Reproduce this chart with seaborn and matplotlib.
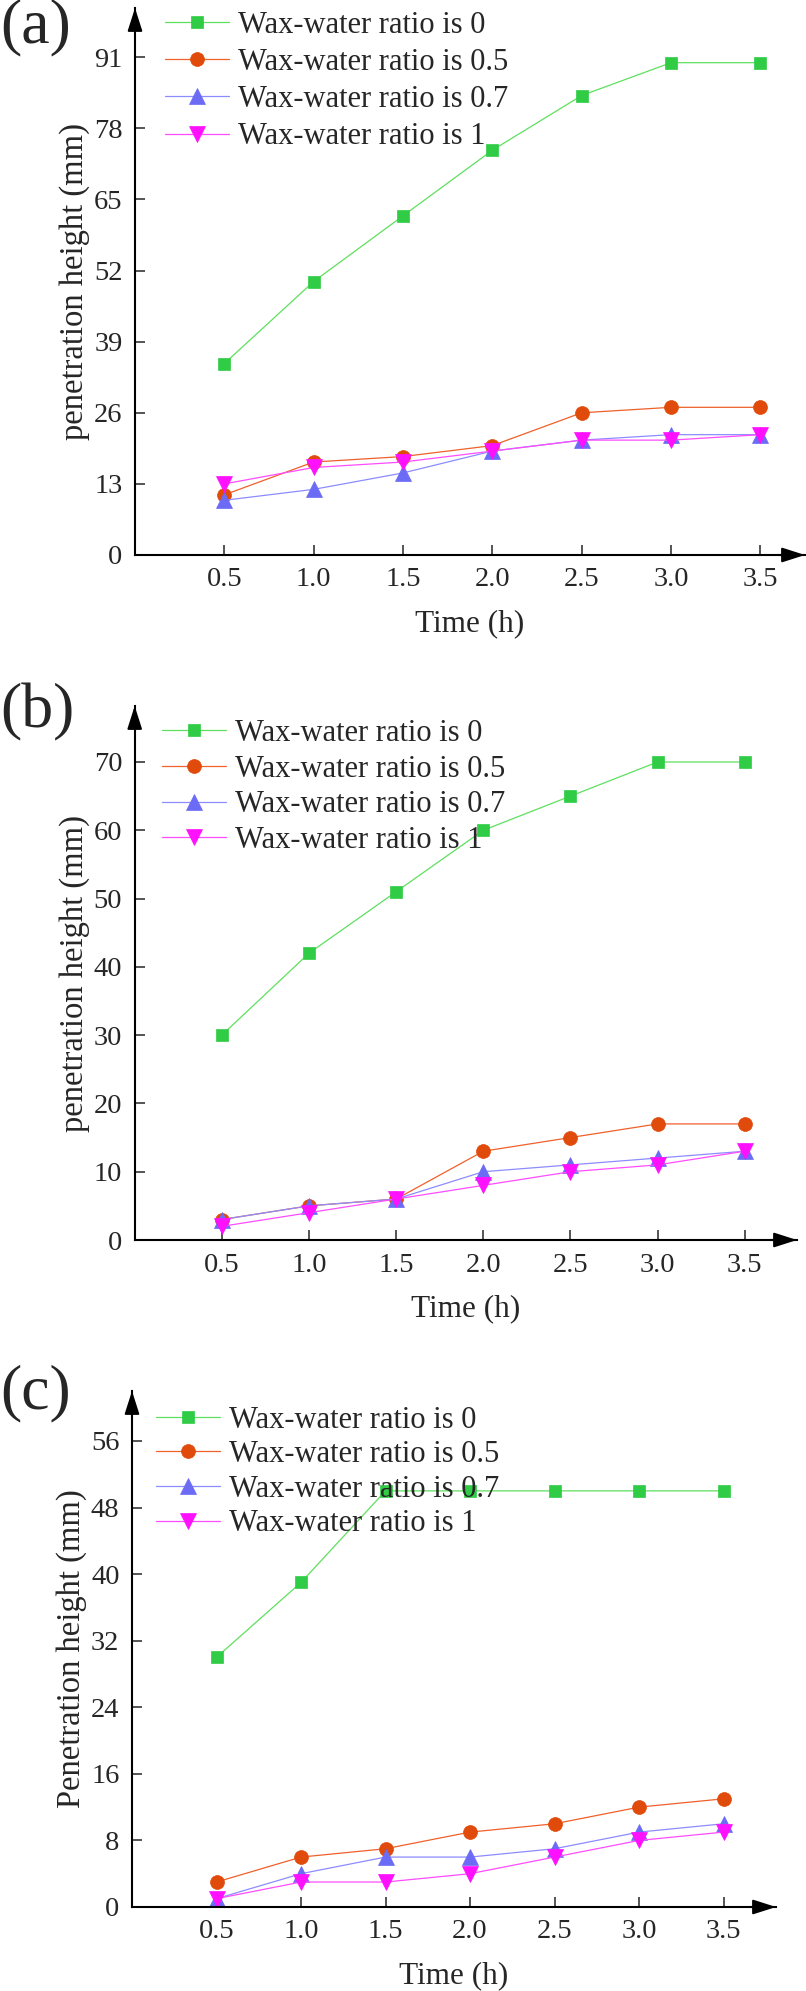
import matplotlib
matplotlib.use("Agg")
import matplotlib.pyplot as plt
import seaborn as sns

sns.set_theme(style="ticks")
plt.rcParams["font.family"] = ["Liberation Serif", "DejaVu Serif"]

# données
time_h = [0.5, 1.0, 1.5, 2.0, 2.5, 3.0, 3.5]
labels = ["Wax-water ratio is 0", "Wax-water ratio is 0.5",
          "Wax-water ratio is 0.7", "Wax-water ratio is 1"]

a_r0 = [35, 50, 62, 74, 84, 90, 90]
a_r05 = [11, 17, 18, 20, 26, 27, 27]
a_r07 = [10, 12, 15, 19, 21, 22, 22]
a_r1 = [13, 16, 17, 19, 21, 21, 22]

b_r0 = [30, 42, 51, 60, 65, 70, 70]
b_r05 = [3, 5, 6, 13, 15, 17, 17]
b_r07 = [3, 5, 6, 10, 11, 12, 13]
b_r1 = [2, 4, 6, 8, 10, 11, 13]

c_r0 = [30, 39, 50, 50, 50, 50, 50]
c_r05 = [3, 6, 7, 9, 10, 12, 13]
c_r07 = [1, 4, 6, 6, 7, 9, 10]
c_r1 = [1, 3, 3, 4, 6, 8, 9]

a_yticks = [0, 13, 26, 39, 52, 65, 78, 91]
b_yticks = [0, 10, 20, 30, 40, 50, 60, 70]
c_yticks = [0, 8, 16, 24, 32, 40, 48, 56]

line_colors = ["#5EE05E", "#F0602A", "#8C8CFF", "#FF4CFF"]
marker_colors = ["#30CC45", "#E04A0A", "#6B6BF5", "#FF10FF"]
markers = ["s", "o", "^", "v"]
marker_sizes = [8.5, 10, 11.5, 11.5]

W, H = 806, 1991
fig = plt.figure(figsize=(W / 100, H / 100), dpi=100)


def px_axes(left, right, top, bottom):
    return fig.add_axes([left / W, 1 - bottom / H, (right - left) / W, (bottom - top) / H])


def draw_panel(ax, series, ylim, xlim, yticks, ylabel, leg_xy, spacing, tag, tag_y):
    for vals, lab, lc, mc, mk, ms in zip(series, labels, line_colors,
                                          marker_colors, markers, marker_sizes):
        sns.lineplot(x=time_h, y=vals, ax=ax, color=lc, lw=0.9, marker=mk,
                     markersize=ms, markerfacecolor=mc, markeredgecolor=mc,
                     markeredgewidth=0.5, label=lab, legend=False)
    ax.set_xlim(*xlim)
    ax.set_ylim(*ylim)
    ax.set_xticks(time_h)
    ax.set_xticklabels([f"{t:.1f}" for t in time_h])
    ax.set_yticks(yticks)
    ax.set_xlabel("Time (h)", fontsize=22.5, labelpad=12)
    ax.set_ylabel(ylabel, fontsize=23.5, labelpad=3)
    ax.tick_params(direction="in", length=7.2, width=1.1, labelsize=20.5, pad=9)
    ax.tick_params(axis="x", pad=9)
    for s in ["top", "right"]:
        ax.spines[s].set_visible(False)
    for s in ["left", "bottom"]:
        ax.spines[s].set_linewidth(1.5)
        ax.spines[s].set_color("black")
    arrow = dict(arrowstyle="-|>,head_length=1.0,head_width=0.32", color="black",
                 lw=1.5, mutation_scale=14, shrinkA=0, shrinkB=0)
    ax.annotate("", xy=(0, 1), xytext=(0, 0.96), xycoords="axes fraction",
                arrowprops=arrow, annotation_clip=False)
    ax.annotate("", xy=(1, 0), xytext=(0.96, 0), xycoords="axes fraction",
                arrowprops=arrow, annotation_clip=False)
    ax.legend(loc="upper left", bbox_to_anchor=(leg_xy[0] / W, 1 - leg_xy[1] / H),
              bbox_transform=fig.transFigure, frameon=False, fontsize=22,
              handlelength=2.1, handletextpad=0.3, labelspacing=spacing,
              borderpad=0, borderaxespad=0)
    fig.text(0.0, 1 - tag_y / H, tag, fontsize=46, ha="left", va="center")


ax_a = px_axes(135, 805, 8, 555)
draw_panel(ax_a, [a_r0, a_r05, a_r07, a_r1], (0, 100), (0, 3.75), a_yticks,
           "penetration height (mm)", (165, 11), 0.265, "(a)", 27)

ax_b = px_axes(134.7, 797, 706, 1240)
draw_panel(ax_b, [b_r0, b_r05, b_r07, b_r1], (0, 78.2), (0, 3.8), b_yticks,
           "penetration height (mm)", (162, 719), 0.22, "(b)", 712)

ax_c = px_axes(132, 776, 1391, 1907)
draw_panel(ax_c, [c_r0, c_r05, c_r07, c_r1], (0, 62), (0, 3.81), c_yticks,
           "Penetration height (mm)", (156, 1405.5), 0.185, "(c)", 1393)

fig.savefig("out.png", dpi=100)
